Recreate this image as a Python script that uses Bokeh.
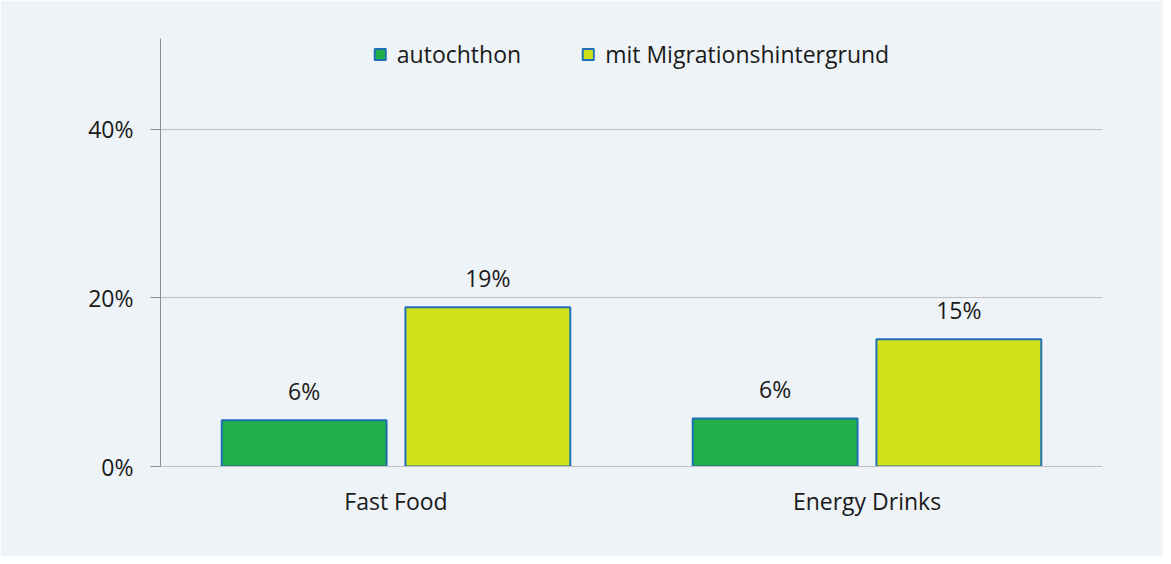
from bokeh.plotting import figure
from bokeh.models import ColumnDataSource, FactorRange, Range1d, FixedTicker, PrintfTickFormatter, Legend, LegendItem
from bokeh.transform import dodge
from bokeh.core.properties import value
from bokeh.embed import file_html
from bokeh.resources import INLINE

categories = ["Fast Food", "Energy Drinks"]
autochthon = [5.5, 5.7]
migration = [18.9, 15.1]
auto_labels = ["6%", "6%"]
mig_labels = ["19%", "15%"]
series_names = ["autochthon", "mit Migrationshintergrund"]
y_ticks = [0, 20, 40]

BG = "#EEF3F7"
GREEN = "#21AE48"
YELLOW = "#D0E11C"
EDGE = "#1F6FB5"
FONT = "Open Sans"
FS = "23px"

src = ColumnDataSource(dict(cat=categories, a=autochthon, m=migration,
                            al=auto_labels, ml=mig_labels))

p = figure(x_range=FactorRange(*categories), y_range=Range1d(0, 50.8),
           width=1163, height=556, output_backend="svg", toolbar_location=None,
           min_border_left=160, min_border_right=61, min_border_top=38, min_border_bottom=90)
p.background_fill_color = BG
p.border_fill_color = BG
p.outline_line_color = None

r1 = p.vbar(x=dodge("cat", -0.195, range=p.x_range), top="a", width=0.35, source=src,
            fill_color=GREEN, line_color=EDGE, line_width=2)
r2 = p.vbar(x=dodge("cat", 0.195, range=p.x_range), top="m", width=0.35, source=src,
            fill_color=YELLOW, line_color=EDGE, line_width=2)

for col, lab, off in (("a", "al", -0.195), ("m", "ml", 0.195)):
    p.text(x=dodge("cat", off, range=p.x_range), y=col, text=lab, source=src,
           text_align="center", text_baseline="bottom", y_offset=-13,
           text_font=value(FONT), text_font_size=FS, text_color="#1A1A1A")

legend = Legend(items=[LegendItem(label=series_names[0], renderers=[r1]),
                       LegendItem(label=series_names[1], renderers=[r2])],
                orientation="horizontal", location="top_center",
                background_fill_alpha=0, border_line_color=None,
                label_text_font=FONT, label_text_font_size=FS, label_text_color="#1A1A1A",
                glyph_width=14, glyph_height=14, label_standoff=10, spacing=60,
                margin=0, padding=0, label_height=18)
p.add_layout(legend)

p.yaxis.ticker = FixedTicker(ticks=y_ticks)
p.yaxis.formatter = PrintfTickFormatter(format="%d%%")
p.yaxis.axis_line_color = "#8C8C8C"
p.yaxis.major_tick_line_color = "#8C8C8C"
p.yaxis.major_tick_out = 10
p.yaxis.major_tick_in = 0
p.yaxis.minor_tick_line_color = None
p.yaxis.major_label_text_font = FONT
p.yaxis.major_label_text_font_size = FS
p.yaxis.major_label_text_color = "#1A1A1A"
p.yaxis.major_label_standoff = 17

p.xaxis.axis_line_color = "#BFBFBF"
p.xaxis.major_tick_line_color = None
p.xaxis.minor_tick_line_color = None
p.xaxis.major_label_text_font = FONT
p.xaxis.major_label_text_font_size = FS
p.xaxis.major_label_text_color = "#1A1A1A"
p.xaxis.major_label_standoff = 12

p.xgrid.grid_line_color = None
p.ygrid.ticker = FixedTicker(ticks=y_ticks)
p.ygrid.grid_line_color = "#BFBFBF"
p.ygrid.grid_line_width = 1

open("out.html", "w").write(file_html(p, INLINE))
